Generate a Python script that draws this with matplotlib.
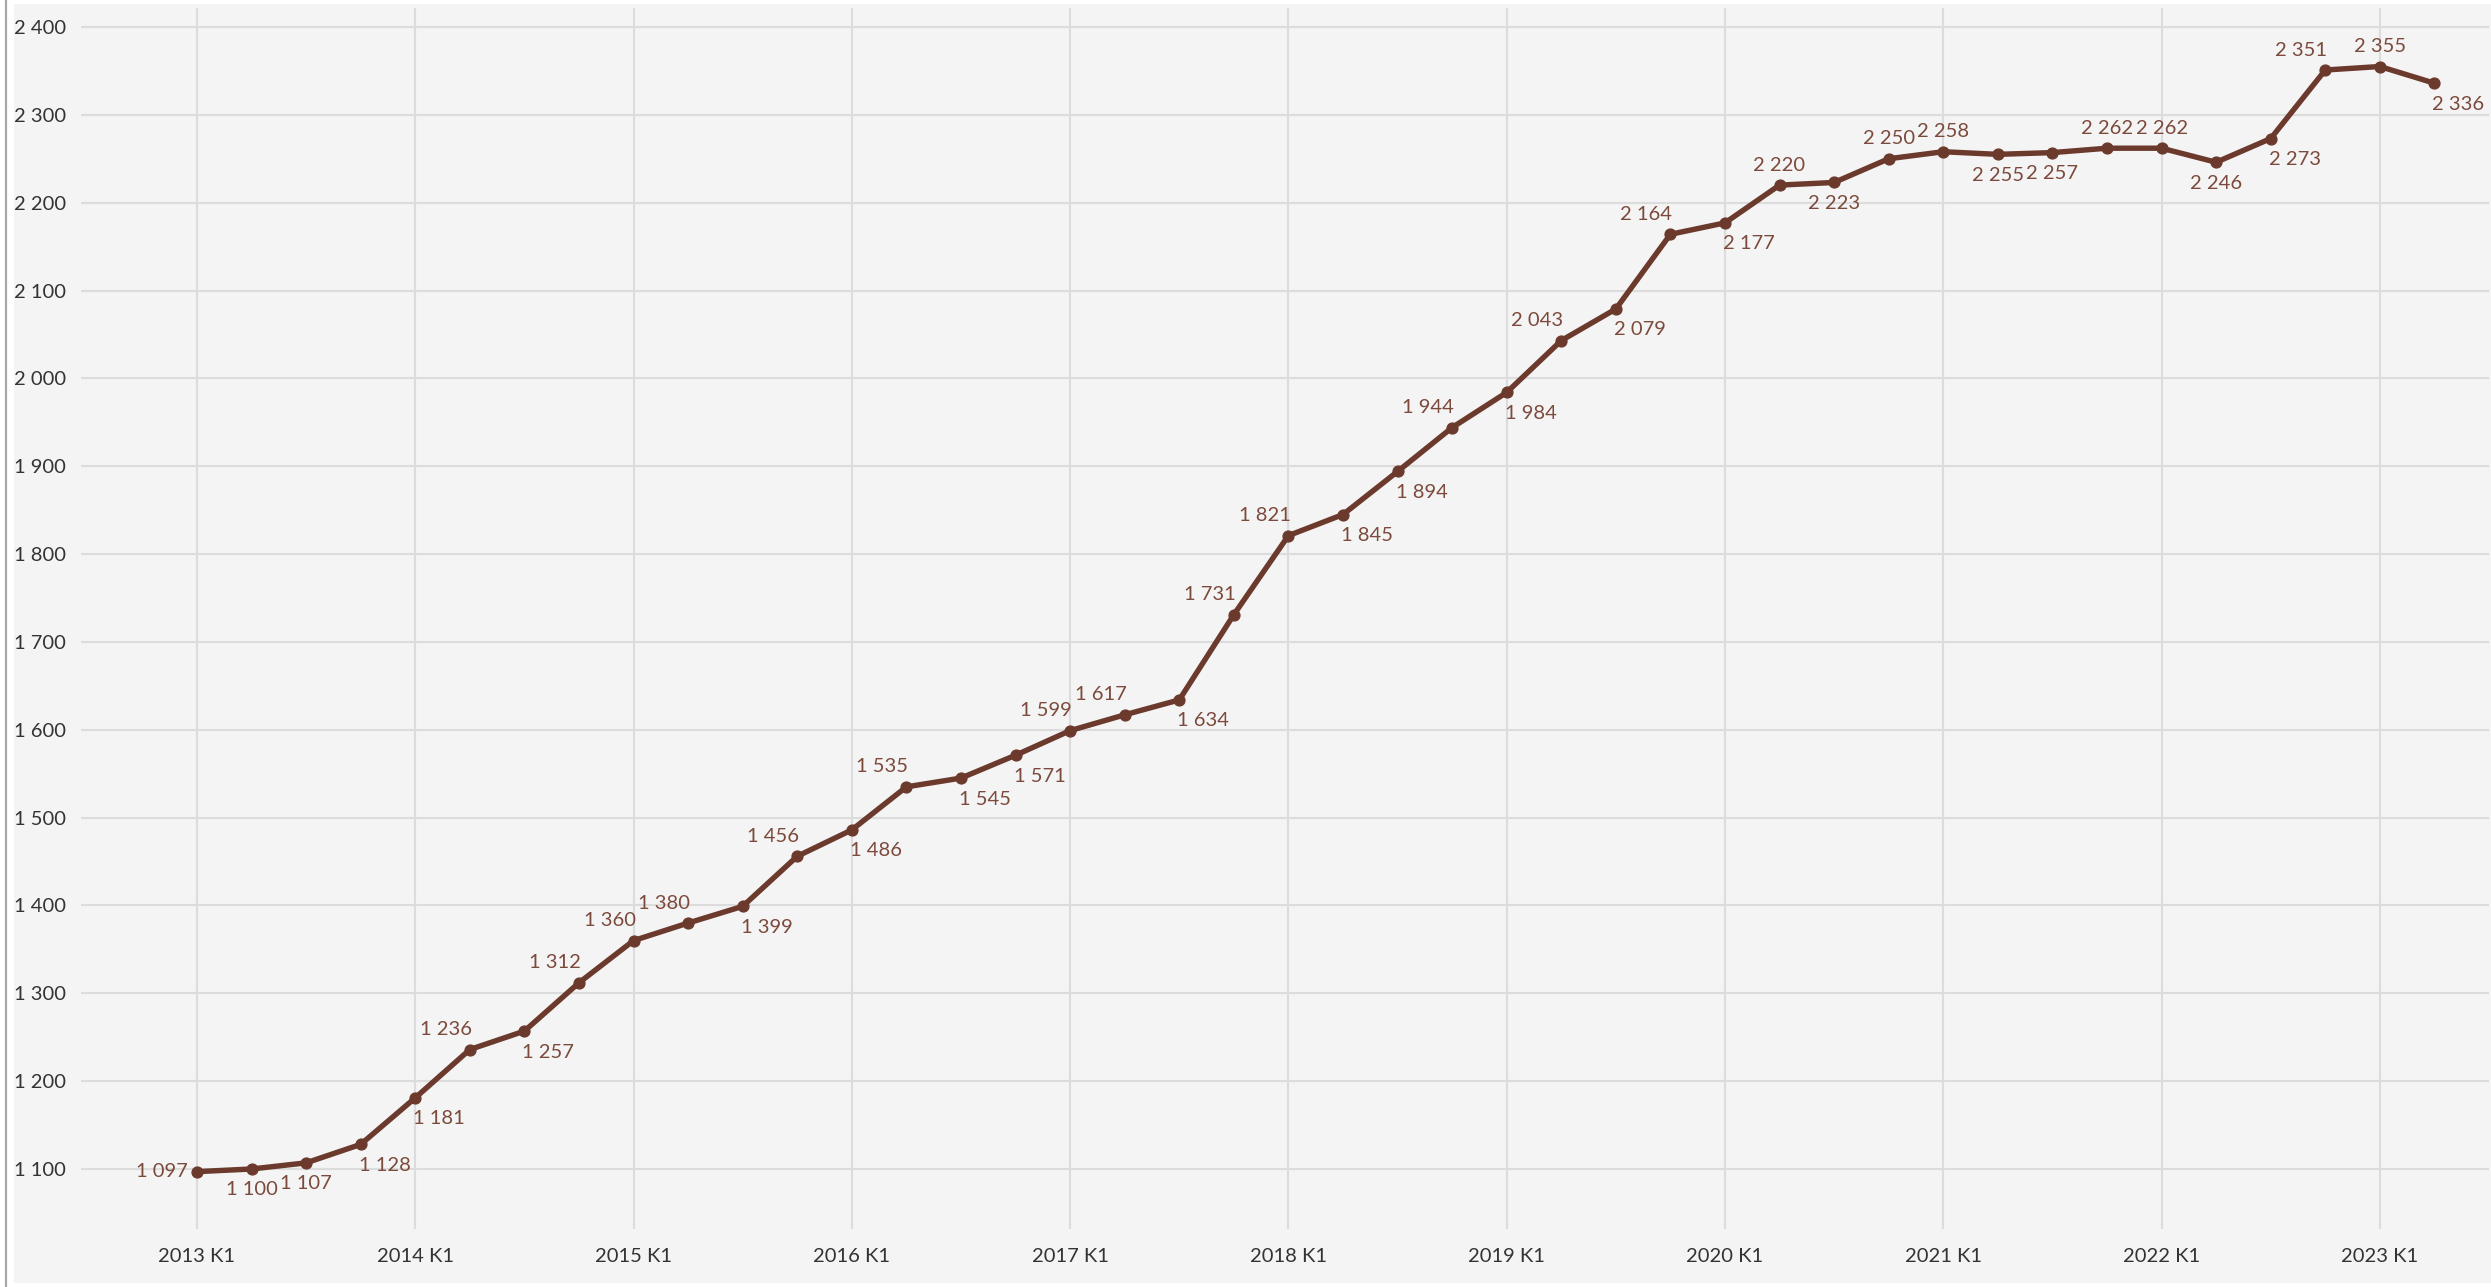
import matplotlib
matplotlib.use("Agg")
import matplotlib.pyplot as plt
from matplotlib.patches import Rectangle
from matplotlib.lines import Line2D

# ---- data ----
quarters = [
    "2013 K1", "2013 K2", "2013 K3", "2013 K4",
    "2014 K1", "2014 K2", "2014 K3", "2014 K4",
    "2015 K1", "2015 K2", "2015 K3", "2015 K4",
    "2016 K1", "2016 K2", "2016 K3", "2016 K4",
    "2017 K1", "2017 K2", "2017 K3", "2017 K4",
    "2018 K1", "2018 K2", "2018 K3", "2018 K4",
    "2019 K1", "2019 K2", "2019 K3", "2019 K4",
    "2020 K1", "2020 K2", "2020 K3", "2020 K4",
    "2021 K1", "2021 K2", "2021 K3", "2021 K4",
    "2022 K1", "2022 K2", "2022 K3", "2022 K4",
    "2023 K1", "2023 K2",
]
values = [
    1097, 1100, 1107, 1128,
    1181, 1236, 1257, 1312,
    1360, 1380, 1399, 1456,
    1486, 1535, 1545, 1571,
    1599, 1617, 1634, 1731,
    1821, 1845, 1894, 1944,
    1984, 2043, 2079, 2164,
    2177, 2220, 2223, 2250,
    2258, 2255, 2257, 2262,
    2262, 2246, 2273, 2351,
    2355, 2336,
]
# label placement: L=left, A=above, AL=above-left, B=below, BR=below-right
label_pos = [
    "L", "B", "B", "BR",
    "BR", "AL", "BR", "AL",
    "AL", "AL", "BR", "AL",
    "BR", "AL", "BR", "BR",
    "AL", "AL", "BR", "AL",
    "AL", "BR", "BR", "AL",
    "BR", "AL", "BR", "AL",
    "BR", "A", "B", "A",
    "A", "B", "B", "A",
    "A", "B", "BR", "AL",
    "A", "BR",
]
y_ticks = [1100, 1200, 1300, 1400, 1500, 1600, 1700, 1800, 1900, 2000, 2100, 2200, 2300, 2400]

# ---- style ----
LINE_C = "#6b3a2d"
LABEL_C = "#7c4a3c"
TICK_C = "#333333"
GRID_C = "#dcdcdc"
PANEL_C = "#f4f4f4"
FONT = ["Lato", "DejaVu Sans"]
plt.rcParams["font.family"] = FONT

W, H = 2491, 1287
fig = plt.figure(figsize=(W / 100, H / 100), dpi=100)
fig.patch.set_facecolor("white")

# panel background
fig.patches.append(Rectangle((14 / W, 4 / H), (W - 14) / W, (1279) / H,
                             transform=fig.transFigure, facecolor=PANEL_C,
                             edgecolor="none", zorder=-2))
# left border line
fig.lines.append(Line2D([6 / W, 6 / W], [0, 1], transform=fig.transFigure,
                        color="#a8a8a8", linewidth=1.6, zorder=-1))

ax = fig.add_axes([81 / W, 58 / H, (2489 - 81) / W, (1229 - 8) / H])
ax.set_facecolor(PANEL_C)
ax.set_zorder(1)

x = list(range(len(values)))
ax.plot(x, values, color=LINE_C, linewidth=3.9, marker="o", markersize=7.8,
        solid_joinstyle="round", zorder=3)

offsets = {
    "L": ((-9, 0), "right", "center"),
    "A": ((0, 20), "center", "center"),
    "AL": ((2, 20), "right", "center"),
    "B": ((0, -21), "center", "center"),
    "BR": ((-2, -21), "left", "center"),
}
for xi, v, p in zip(x, values, label_pos):
    (dx, dy), ha, va = offsets[p]
    ax.annotate(f"{v:,}".replace(",", " "), (xi, v), xytext=(dx, dy),
                textcoords="offset pixels", ha=ha, va=va, fontsize=14.5,
                color=LABEL_C, zorder=4, annotation_clip=False)

ax.set_xlim(-2.125, 42.0)
ax.set_ylim(1031.7, 2421.6)

ax.set_xticks(x[::4])
ax.set_xticklabels(quarters[::4])
ax.set_yticks(y_ticks)
ax.set_yticklabels([f"{t:,}".replace(",", " ") for t in y_ticks])

ax.tick_params(axis="both", length=0, labelsize=14.5, labelcolor=TICK_C)
ax.tick_params(axis="y", pad=11)
ax.tick_params(axis="x", pad=14)
ax.grid(True, color=GRID_C, linewidth=1.5)
ax.set_axisbelow(True)
for s in ax.spines.values():
    s.set_visible(False)

fig.savefig("out.png", dpi=100, facecolor="white")
